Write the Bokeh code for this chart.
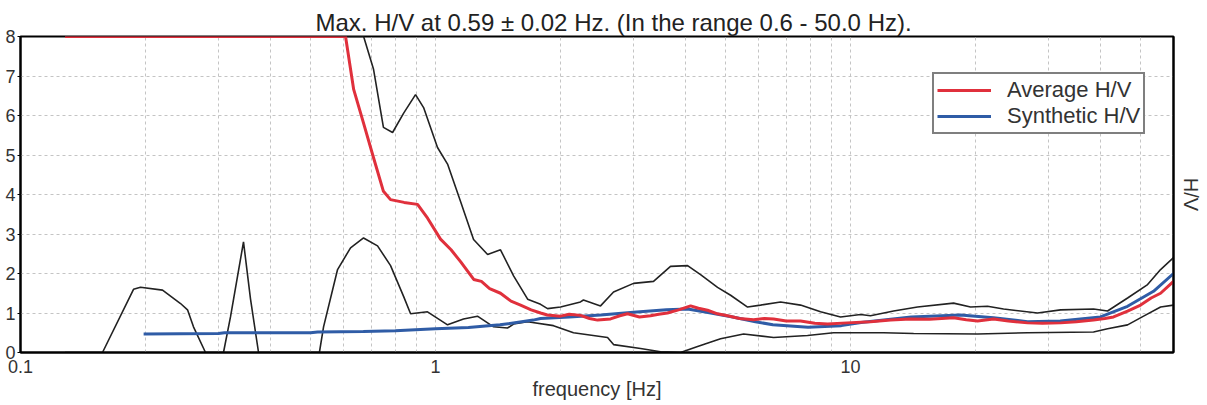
from bokeh.plotting import figure
from bokeh.models import (Range1d, FixedTicker, Legend, LegendItem, LinearAxis)
from bokeh.embed import file_html
from bokeh.resources import INLINE

# ---- data ----
avg_f = [0.128, 0.607, 0.635, 0.671, 0.709, 0.749, 0.779, 0.84, 0.905, 0.957, 1.028,
         1.09, 1.149, 1.236, 1.29, 1.35, 1.434, 1.52, 1.603, 1.70, 1.791, 1.86, 2.0,
         2.1, 2.235, 2.35, 2.457, 2.641, 2.78, 2.902, 3.1, 3.297, 3.45, 3.622, 3.85,
         4.117, 4.3, 4.523, 4.78, 5.055, 5.4, 5.84, 6.2, 6.524, 7.0, 7.577, 8.2, 8.803,
         9.8, 11.17, 12.5, 13.95, 15.5, 17.71, 19.0, 20.23, 22.11, 24.0, 26.7, 29.0,
         32.07, 35.0, 38.5, 41.0, 43.02, 46.5, 49.99, 53.0, 55.85, 60.0]
avg_v = [8.0, 8.0, 6.66, 5.8, 4.93, 4.08, 3.87, 3.8, 3.75, 3.4, 2.87,
         2.6, 2.3, 1.85, 1.8, 1.62, 1.5, 1.3, 1.2, 1.08, 1.0, 0.95, 0.92,
         0.97, 0.94, 0.86, 0.82, 0.85, 0.93, 0.98, 0.9, 0.93, 0.97, 1.0, 1.08,
         1.18, 1.12, 1.07, 0.98, 0.93, 0.86, 0.83, 0.86, 0.85, 0.8, 0.8, 0.74, 0.72,
         0.75, 0.78, 0.82, 0.85, 0.84, 0.88, 0.83, 0.8, 0.85, 0.8, 0.75, 0.74,
         0.75, 0.78, 0.82, 0.86, 0.9, 1.05, 1.2, 1.38, 1.5, 1.8]

syn_f = [0.198, 0.30, 0.31, 0.50, 0.52, 0.67, 0.80, 1.0, 1.2, 1.43, 1.72, 1.79, 2.1,
         2.5, 3.0, 3.6, 4.05, 4.5, 5.2, 5.9, 6.5, 7.9, 9.5, 10.6, 14.0, 18.4, 22.1,
         26.7, 32.0, 40.0, 46.5, 53.7, 60.0]
syn_v = [0.47, 0.48, 0.5, 0.5, 0.52, 0.53, 0.55, 0.6, 0.63, 0.7, 0.82, 0.86, 0.9,
         0.95, 1.02, 1.08, 1.1, 1.02, 0.9, 0.78, 0.7, 0.64, 0.68, 0.76, 0.9, 0.95, 0.88,
         0.78, 0.8, 0.9, 1.17, 1.55, 2.0]

up_f = [0.128, 0.671, 0.709, 0.749, 0.788, 0.838, 0.895, 0.936, 1.011, 1.069, 1.149,
        1.235, 1.335, 1.434, 1.542, 1.667, 1.791, 1.862, 2.001, 2.235, 2.272, 2.498,
        2.685, 3.0, 3.352, 3.683, 4.049, 4.351, 4.781, 5.14, 5.648, 6.07, 6.782, 7.577,
        8.467, 9.461, 10.57, 11.17, 12.7, 14.5, 17.71, 19.46, 21.38, 23.37, 28.22,
        32.07, 38.5, 41.62, 46.51, 51.97, 55.85, 60.0]
up_v = [8.0, 8.0, 7.17, 5.7, 5.57, 6.06, 6.53, 6.2, 5.19, 4.77, 3.82,
        2.86, 2.48, 2.6, 1.94, 1.35, 1.22, 1.11, 1.15, 1.28, 1.33, 1.18,
        1.53, 1.75, 1.8, 2.18, 2.2, 1.97, 1.65, 1.45, 1.15, 1.2, 1.28, 1.2,
        1.03, 0.9, 0.96, 0.93, 1.05, 1.15, 1.25, 1.15, 1.17, 1.1, 1.0,
        1.08, 1.1, 1.05, 1.38, 1.72, 2.1, 2.4]

lo_f = [0.128, 0.1576, 0.1872, 0.1946, 0.2199, 0.243, 0.2526, 0.2611, 0.2791, 0.3084,
        0.3206, 0.3446, 0.3583, 0.3746, 0.525, 0.5373, 0.5807, 0.6241, 0.6707, 0.7249,
        0.7792, 0.8376, 0.8708, 0.9565, 1.069, 1.168, 1.262, 1.38, 1.491, 1.542, 1.667,
        1.924, 2.15, 2.597, 2.685, 3.119, 3.485, 3.894, 4.28, 4.862, 5.524, 6.524,
        7.877, 9.1, 11.17, 12.01, 14.19, 20.23, 26.7, 38.5, 41.62, 46.51, 50.83,
        55.85, 60.0]
lo_v = [0.0, 0.0, 1.6, 1.65, 1.58, 1.24, 1.08, 0.65, 0.0, 0.0,
        0.9, 2.8, 1.35, 0.0, 0.0, 0.65, 2.1, 2.65, 2.9, 2.7,
        2.2, 1.42, 0.98, 1.03, 0.7, 0.85, 0.92, 0.65, 0.62, 0.72, 0.78,
        0.68, 0.5, 0.38, 0.2, 0.1, 0.02, 0.0, 0.15, 0.35, 0.47, 0.38,
        0.43, 0.5, 0.5, 0.5, 0.48, 0.47, 0.5, 0.52, 0.6, 0.7, 0.92,
        1.15, 1.2]

x_ticks = [0.1, 1, 10]
x_minor = [0.2, 0.3, 0.4, 0.5, 0.6, 0.7, 0.8, 0.9, 2, 3, 4, 5, 6, 7, 8, 9,
           20, 30, 40, 50, 60]
y_ticks = [0, 1, 2, 3, 4, 5, 6, 7, 8]

title_text = "Max. H/V at 0.59 \u00b1 0.02 Hz. (In the range 0.6 - 50.0 Hz)."
right_label = "H/V"

FONT = "Liberation Sans"

p = figure(width=1207, height=405, x_axis_type="log",
           x_range=Range1d(0.1, 60), y_range=Range1d(0, 8),
           output_backend="svg", toolbar_location=None,
           min_border_left=20, min_border_right=34,
           min_border_top=36, min_border_bottom=53)
p.background_fill_color = "white"
p.border_fill_color = "white"
p.outline_line_color = "black"
p.outline_line_width = 2

p.title.text = title_text
p.title.align = "left"
p.title.offset = 295
p.title.standoff = 2
p.title.text_font = FONT
p.title.text_font_size = "24px"
p.title.text_font_style = "normal"
p.title.text_color = "#222222"

# axes
xa = p.xaxis[0]
xa.ticker = FixedTicker(ticks=x_ticks, minor_ticks=x_minor)
xa.major_label_overrides = {0.1: "0.1", 1: "1", 10: "10"}
xa.axis_label = "frequency [Hz]"
xa.axis_label_text_font = FONT
xa.axis_label_text_font_size = "20px"
xa.axis_label_text_font_style = "normal"
xa.axis_label_text_color = "#333333"
xa.axis_label_standoff = 2
xa.major_label_text_font = FONT
xa.major_label_text_font_size = "18px"
xa.major_label_text_color = "#333333"
xa.major_label_standoff = 7
xa.major_tick_out = 0
xa.major_tick_in = 0
xa.minor_tick_out = 0
xa.minor_tick_in = 0
xa.axis_line_color = "black"
xa.axis_line_width = 2

ya = p.yaxis[0]
ya.ticker = FixedTicker(ticks=y_ticks)
ya.major_label_text_font = FONT
ya.major_label_text_font_size = "18px"
ya.major_label_text_color = "#333333"
ya.major_label_standoff = 2
ya.major_tick_out = 3
ya.major_tick_in = 0
ya.minor_tick_out = 0
ya.minor_tick_in = 0
ya.axis_line_color = "black"
ya.axis_line_width = 2

# right axis carrying only the "H/V" label (reads top to bottom on the right side)
ra = LinearAxis(ticker=FixedTicker(ticks=[]), axis_label=right_label)
ra.axis_label_text_font = FONT
ra.axis_label_text_font_size = "20px"
ra.axis_label_text_font_style = "normal"
ra.axis_label_text_color = "#333333"
ra.axis_label_standoff = 6
ra.axis_line_color = "black"
ra.axis_line_width = 2
ra.major_tick_out = 0
ra.minor_tick_out = 0
p.add_layout(ra, "right")

# grids
p.xgrid.grid_line_color = "#c4c4c4"
p.xgrid.grid_line_dash = "3 3"
p.xgrid.minor_grid_line_color = "#c4c4c4"
p.xgrid.minor_grid_line_dash = "3 3"
p.ygrid.grid_line_color = "#c4c4c4"
p.ygrid.grid_line_dash = "3 3"

# curves
p.line(up_f, up_v, line_color="#222222", line_width=1.6)
p.line(lo_f, lo_v, line_color="#222222", line_width=1.6)
r_syn = p.line(syn_f, syn_v, line_color="#2f5ca6", line_width=3)
r_avg = p.line(avg_f, avg_v, line_color="#e0303c", line_width=3)

legend = Legend(items=[LegendItem(label="Average H/V", renderers=[r_avg]),
                       LegendItem(label="Synthetic H/V", renderers=[r_syn])],
                location=(912, 218))
legend.label_text_font = FONT
legend.label_text_font_size = "22px"
legend.label_text_color = "#333333"
legend.border_line_color = "black"
legend.border_line_width = 2
legend.background_fill_alpha = 1
legend.glyph_width = 54
legend.glyph_height = 20
legend.label_height = 20
legend.label_standoff = 16
legend.spacing = 0
legend.padding = 3
legend.margin = 0
p.add_layout(legend, "center")

open("out.html", "w").write(file_html(p, INLINE))
